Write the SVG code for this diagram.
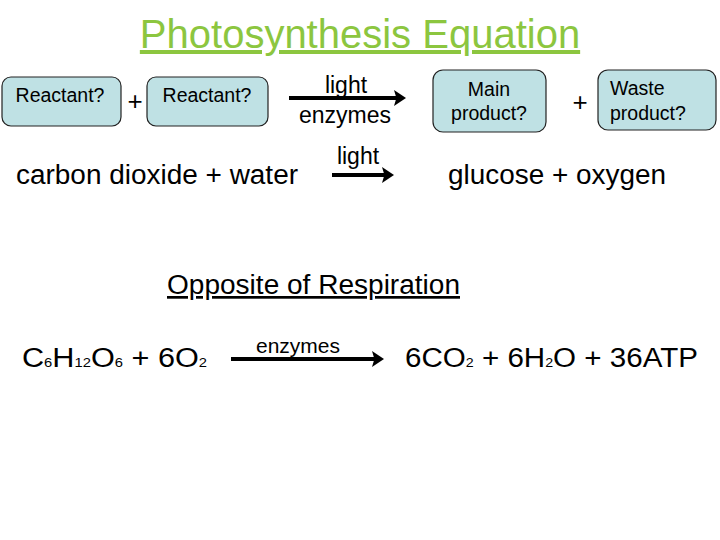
<svg xmlns="http://www.w3.org/2000/svg" width="720" height="540" viewBox="0 0 720 540">
<style>
text{font-family:"Liberation Sans",Arial,sans-serif;fill:#000}
.box{fill:#BFE1E4;stroke:#222;stroke-width:1.2}
.arr{stroke:#000;stroke-width:4;fill:none;marker-end:url(#ah)}
.s{font-size:13px}
</style>
<defs><marker id="ah" markerWidth="4" markerHeight="4" refX="2" refY="2" orient="auto"><path d="M0,0L3,2L0,4L0.6,2z" fill="#000"/></marker></defs>
<rect width="720" height="540" fill="#fff"/>
<text x="360" y="48" text-anchor="middle" font-size="40" style="fill:#8CC63F;text-decoration:underline">Photosynthesis Equation</text>
<g id="r1"><rect class="box" x="2" y="77" width="119" height="49" rx="9"/><text x="60" y="102" text-anchor="middle" font-size="19.5">Reactant?</text></g>
<text x="135" y="110" text-anchor="middle" font-size="26">+</text>
<g id="r2"><rect class="box" x="147" y="77" width="121" height="49" rx="9"/><text x="207" y="102" text-anchor="middle" font-size="19.5">Reactant?</text></g>
<g id="p1"><rect class="box" x="433" y="70" width="113" height="62" rx="10"/><text x="489" y="96" text-anchor="middle" font-size="19.5">Main</text><text x="489" y="120" text-anchor="middle" font-size="19.5">product?</text></g>
<text x="580" y="111" text-anchor="middle" font-size="26">+</text>
<g id="p2"><rect class="box" x="598" y="70" width="118" height="60" rx="10"/><text x="610" y="95" font-size="19.5">Waste</text><text x="610" y="120" font-size="19.5">product?</text></g>
<g id="connectors">
<line class="arr" x1="289" y1="98" x2="402" y2="98"/>
<line class="arr" x1="332" y1="175" x2="390" y2="175"/>
<line class="arr" x1="231" y1="359" x2="380" y2="359"/>
</g>
<text x="346" y="93" text-anchor="middle" font-size="23">light</text>
<text x="345" y="123" text-anchor="middle" font-size="23">enzymes</text>
<text x="358" y="164" text-anchor="middle" font-size="23">light</text>
<text x="16" y="184" font-size="27" textLength="282" lengthAdjust="spacingAndGlyphs">carbon dioxide + water</text>
<text x="448" y="184" font-size="27" textLength="218" lengthAdjust="spacingAndGlyphs">glucose + oxygen</text>
<text x="167" y="294" font-size="27" textLength="293" lengthAdjust="spacingAndGlyphs" style="text-decoration:underline">Opposite of Respiration</text>
<text x="298" y="353" text-anchor="middle" font-size="21">enzymes</text>
<text x="22" y="367" font-size="27" textLength="185" lengthAdjust="spacingAndGlyphs">C<tspan class="s">6</tspan>H<tspan class="s">12</tspan>O<tspan class="s">6</tspan> +  6O<tspan class="s">2</tspan></text>
<text x="405" y="367" font-size="27" textLength="293" lengthAdjust="spacingAndGlyphs">6CO<tspan class="s">2</tspan> +  6H<tspan class="s">2</tspan>O + 36ATP</text>
</svg>
